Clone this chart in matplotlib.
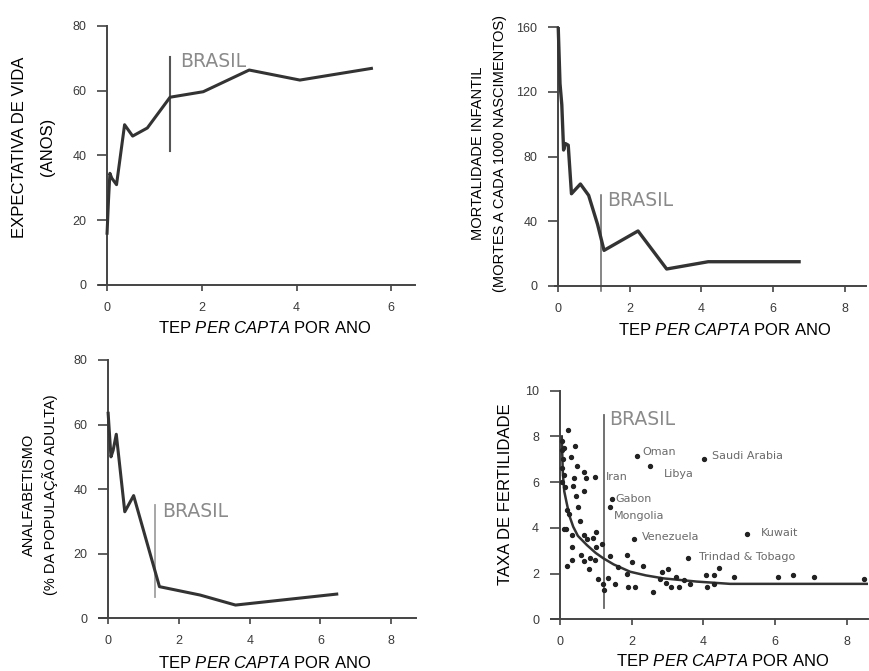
import matplotlib

matplotlib.use("Agg")
import matplotlib.pyplot as plt

plt.rcParams["font.family"] = ["Liberation Sans", "DejaVu Sans"]
plt.rcParams["mathtext.fontset"] = "custom"
plt.rcParams["mathtext.rm"] = "Liberation Sans"
plt.rcParams["mathtext.it"] = "Liberation Sans:italic"

W, H = 869, 671

# expectativa de vida
life_x = [0, 0.03, 0.06, 0.1, 0.2, 0.37, 0.54, 0.85, 1.33, 2.03, 3.0, 4.07, 5.58]
life_y = [16, 26, 34.5, 33, 31, 49.5, 46, 48.5, 58, 59.7, 66.4, 63.3, 66.9]

# mortalidade infantil
mort_x = [0, 0.05, 0.1, 0.15, 0.2, 0.28, 0.37, 0.62, 0.85, 1.1, 1.28, 2.23, 3.03, 4.19, 6.73]
mort_y = [160, 125, 112, 84, 88, 87, 57, 63, 56, 38, 22, 34, 10.5, 15, 15]

# analfabetismo
illit_x = [0, 0.08, 0.14, 0.23, 0.47, 0.72, 1.45, 2.6, 3.6, 6.46]
illit_y = [63.5, 50, 52, 57, 33, 38, 9.8, 7.2, 4.1, 7.5]

# taxa de fertilidade: curva ajustada
curve_x = [0.05, 0.08, 0.12, 0.19, 0.27, 0.37, 0.5, 0.75, 1.0, 1.21, 1.5, 1.96, 2.4, 2.89, 3.82, 4.75, 8.6]
curve_y = [8.0, 6.4, 5.6, 5.07, 4.5, 4.05, 3.65, 3.25, 2.9, 2.67, 2.4, 2.08, 1.92, 1.79, 1.65, 1.55, 1.55]

# paises sem nome
pts_x = [0.23, 0.42, 0.3, 0.48, 0.68, 0.4, 0.73, 0.37, 0.67, 0.44, 0.5, 0.55, 0.25,
         0.17, 0.35, 0.68, 0.75, 1.0, 0.93, 1.16, 0.35, 1.0, 0.6, 0.35, 0.68, 0.83,
         0.99, 0.21, 0.8, 1.41, 1.87, 2.0, 2.33, 1.63, 1.87, 1.07, 1.35, 1.2, 1.22,
         1.55, 1.9, 2.1, 2.6, 2.86, 3.03, 2.78, 2.95, 3.1, 3.32, 3.45, 3.63, 3.25,
         4.08, 4.3, 4.45, 4.1, 4.3, 4.87, 6.1, 6.5, 7.1, 8.5,
         0.05, 0.06, 0.08, 0.05, 0.1, 0.07, 0.12, 0.1, 0.15, 0.2]
pts_y = [8.3, 7.6, 7.1, 6.7, 6.45, 6.2, 6.2, 5.85, 5.6, 5.4, 4.9, 4.3, 4.6,
         3.95, 3.7, 3.7, 3.5, 3.8, 3.55, 3.3, 3.15, 3.15, 2.8, 2.6, 2.55, 2.7,
         2.6, 2.35, 2.2, 2.75, 2.8, 2.5, 2.35, 2.3, 2.0, 1.75, 1.8, 1.55, 1.3,
         1.55, 1.4, 1.4, 1.2, 2.05, 2.2, 1.75, 1.6, 1.4, 1.4, 1.7, 1.55, 1.85,
         1.95, 1.95, 2.25, 1.4, 1.55, 1.85, 1.85, 1.95, 1.85, 1.75,
         7.8, 7.4, 7.0, 6.6, 6.3, 6.0, 7.5, 3.95, 5.8, 4.8]

# paises com nome
named = ["Oman", "Saudi Arabia", "Libya", "Iran", "Gabon", "Mongolia",
         "Venezuela", "Kuwait", "Trindad & Tobago"]
named_x = [2.14, 4.03, 2.51, 0.98, 1.44, 1.4, 2.08, 5.21, 3.58]
named_y = [7.16, 7.0, 6.7, 6.24, 5.26, 4.93, 3.51, 3.72, 2.7]
label_xy = [(2.3, 7.3), (4.25, 7.15), (2.9, 6.35), (1.27, 6.22), (1.55, 5.28),
            (1.5, 4.5), (2.3, 3.62), (5.6, 3.78), (3.88, 2.72)]

brasil_x = [1.33, 1.19, 1.31, 1.23]

SPINE = "#444444"
LINE = "#333333"
TICK_TXT = "#3a3a3a"


def px(x, y):
    return x / W, 1 - y / H


def make_ax(left, top, right, bottom, xlim, ylim, xticks, yticks):
    l, t = px(left, top)
    r, b = px(right, bottom)
    ax = fig.add_axes([l, b, r - l, t - b])
    ax.set_xlim(*xlim)
    ax.set_ylim(*ylim)
    ax.set_xticks(xticks)
    ax.set_yticks(yticks)
    for s in ("top", "right"):
        ax.spines[s].set_visible(False)
    ax.spines["left"].set_position(("data", 0))
    for s in ("left", "bottom"):
        ax.spines[s].set_color(SPINE)
        ax.spines[s].set_linewidth(1.4)
    ax.tick_params(axis="y", direction="out", length=7, width=1.2, color=SPINE,
                   labelsize=9, labelcolor=TICK_TXT, pad=8)
    ax.tick_params(axis="x", direction="out", length=4, width=1.2, color=SPINE,
                   labelsize=9, labelcolor=TICK_TXT, pad=8)
    ax.patch.set_alpha(0)
    return ax


def brasil(ax, x, y0, y1, ty, color, lw=1.3, tx=None):
    ax.plot([x, x], [y0, y1], color=color, lw=lw, clip_on=False, zorder=2)
    ax.text(tx, ty, "BRASIL", color="#8a8a8a", fontsize=13.5, ha="left",
            va="center", family="DejaVu Sans")


def xlab(x, y):
    fig.text(*px(x, y), r"TEP $\mathit{PER\ CAPTA}$ POR ANO", fontsize=12,
             ha="center", va="center", color="black")


def ylab(x, y, s, size):
    fig.text(*px(x, y), s, fontsize=size, rotation=90, ha="center",
             va="center", color="black")


fig = plt.figure(figsize=(W / 100, H / 100), dpi=100)

# painel 1
ax1 = make_ax(99, 26, 415, 285, (-0.17, 6.5), (0, 80), [0, 2, 4, 6],
              [0, 20, 40, 60, 80])
ax1.plot(life_x, life_y, color=LINE, lw=2.2, zorder=3)
brasil(ax1, brasil_x[0], 41.5, 70.5, 69, "#555555", lw=1.5, tx=1.54)
ylab(20, 147, "EXPECTATIVA DE VIDA", 12)
ylab(47, 147, "(ANOS)", 12)
xlab(265, 328)

# painel 2
ax2 = make_ax(555, 27, 866, 286, (-0.09, 8.6), (0, 160), [0, 2, 4, 6, 8],
              [0, 40, 80, 120, 160])
ax2.plot(mort_x, mort_y, color=LINE, lw=2.4, zorder=3)
brasil(ax2, brasil_x[1], -3, 56, 53, "#666666", lw=1.1, tx=1.37)
ylab(478, 153, "MORTALIDADE INFANTIL", 10.5)
ylab(500, 153, "(MORTES A CADA 1000 NASCIMENTOS)", 10.5)
xlab(725, 330)

# painel 3
ax3 = make_ax(99.3, 360, 416, 618.3, (-0.25, 8.7), (0, 80), [0, 2, 4, 6, 8],
              [0, 20, 40, 60, 80])
ax3.plot(illit_x, illit_y, color=LINE, lw=2.2, zorder=3)
brasil(ax3, brasil_x[2], 6.7, 35, 33, "#a0a0a0", lw=1.3, tx=1.52)
ylab(29, 495, "ANALFABETISMO", 10.5)
ylab(50, 495, "(% DA POPULAÇÃO ADULTA)", 10.5)
xlab(265, 663)

# painel 4
ax4 = make_ax(551, 390.7, 868, 619.3, (-0.25, 8.6), (0, 10), [0, 2, 4, 6, 8],
              [0, 2, 4, 6, 8, 10])
ax4.plot(curve_x, curve_y, color=LINE, lw=1.8, zorder=3)
ax4.scatter(pts_x, pts_y, s=8, color="#222222", zorder=4, clip_on=False)
ax4.scatter(named_x, named_y, s=8, color="#222222", zorder=4)
for name, (tx, ty) in zip(named, label_xy):
    ax4.text(tx, ty, name, fontsize=8, color="#6a6a6a", ha="left",
             va="center", family="DejaVu Sans")
brasil(ax4, brasil_x[3], 0.5, 8.95, 8.75, "#666666", lw=1.3, tx=1.37)
ylab(505, 494, "TAXA DE FERTILIDADE", 12)
xlab(723, 661)

fig.savefig("out.png", dpi=100)
